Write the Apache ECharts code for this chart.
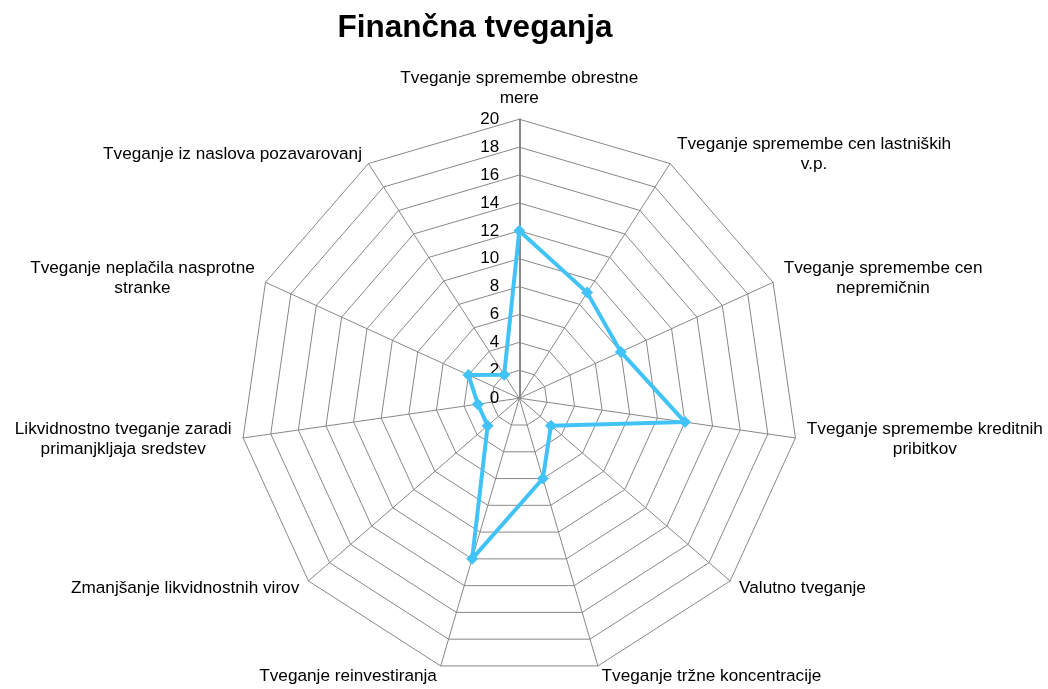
<!DOCTYPE html>
<html>
<head>
<meta charset="utf-8">
<script src="https://cdn.jsdelivr.net/npm/echarts@6/dist/echarts.min.js"></script>
<style>html,body{margin:0;padding:0;background:#fff}#c{width:1048px;height:689px}</style>
</head>
<body>
<div id="c"></div>
<script>
// clockwise from top
const categories = [
  "Tveganje spremembe obrestne\nmere",
  "Tveganje spremembe cen lastniških\nv.p.",
  "Tveganje spremembe cen\nnepremičnin",
  "Tveganje spremembe kreditnih\npribitkov",
  "Valutno tveganje",
  "Tveganje tržne koncentracije",
  "Tveganje reinvestiranja",
  "Zmanjšanje likvidnostnih virov",
  "Likvidnostno tveganje zaradi\nprimanjkljaja sredstev",
  "Tveganje neplačila nasprotne\nstranke",
  "Tveganje iz naslova pozavarovanj"
];
const values = [12, 9, 8, 12, 3, 6, 12, 3, 3, 4, 2];
const axisMin = 0, axisMax = 20, axisStep = 2;
const title = "Finančna tveganja";

const FONT = 'Liberation Sans, Arial, sans-serif';
const NAME_SIZE = 17.2;
// ECharts radar runs counter-clockwise: keep first, reverse the rest
const order = [0].concat(categories.map((_, i) => i).slice(1).reverse());
const cats = order.map(i => categories[i]);
const vals = order.map(i => values[i]);

const ctx = document.createElement('canvas').getContext('2d');
ctx.font = NAME_SIZE + 'px ' + FONT;
const rich = {};
cats.forEach((n, k) => {
  const w = Math.max(...n.split('\n').map(l => ctx.measureText(l).width));
  rich['r' + k] = { width: Math.ceil(w) + 1, align: 'center', fontSize: NAME_SIZE, lineHeight: 20, color: '#000', fontFamily: FONT };
});

const chart = echarts.init(document.getElementById('c'));
const center = ['49.55%', '57.8%'];
const radius = 279;
chart.setOption({
  animation: false,
  textStyle: { fontFamily: FONT },
  title: {
    text: title, left: 470, top: 7, textAlign: 'center',
    textStyle: { fontSize: 31.5, fontWeight: 'bold', color: '#000', fontFamily: FONT }
  },
  radar: {
    center: center, radius: radius, shape: 'polygon', startAngle: 90,
    splitNumber: (axisMax - axisMin) / axisStep,
    indicator: cats.map(n => ({ name: n, min: axisMin, max: axisMax })),
    axisName: {
      color: '#000', fontSize: NAME_SIZE, fontFamily: FONT, lineHeight: 20,
      formatter: function (name) {
        const k = cats.indexOf(name);
        return name.split('\n').map(l => '{r' + k + '|' + l + '}').join('\n');
      },
      rich: rich
    },
    nameGap: 11,
    axisLine: { lineStyle: { color: '#888', width: 1 } },
    splitLine: { lineStyle: { color: '#888', width: 1 } },
    splitArea: { show: false },
    axisTick: { show: false },
    axisLabel: { show: false }
  },
  polar: { center: center, radius: radius },
  angleAxis: { show: false, startAngle: 90, min: 0, max: 360 },
  radiusAxis: {
    min: axisMin, max: axisMax, interval: axisStep,
    axisLine: { show: true, lineStyle: { color: '#888', width: 2 } },
    axisTick: { show: false },
    splitLine: { show: false },
    axisLabel: { show: true, color: '#000', fontSize: 17, margin: 20, fontFamily: FONT }
  },
  series: [{
    type: 'radar',
    symbol: 'diamond', symbolSize: 12,
    lineStyle: { color: '#41C3F8', width: 4 },
    itemStyle: { color: '#41C3F8' },
    data: [{ value: vals }]
  }]
});
</script>
</body>
</html>
